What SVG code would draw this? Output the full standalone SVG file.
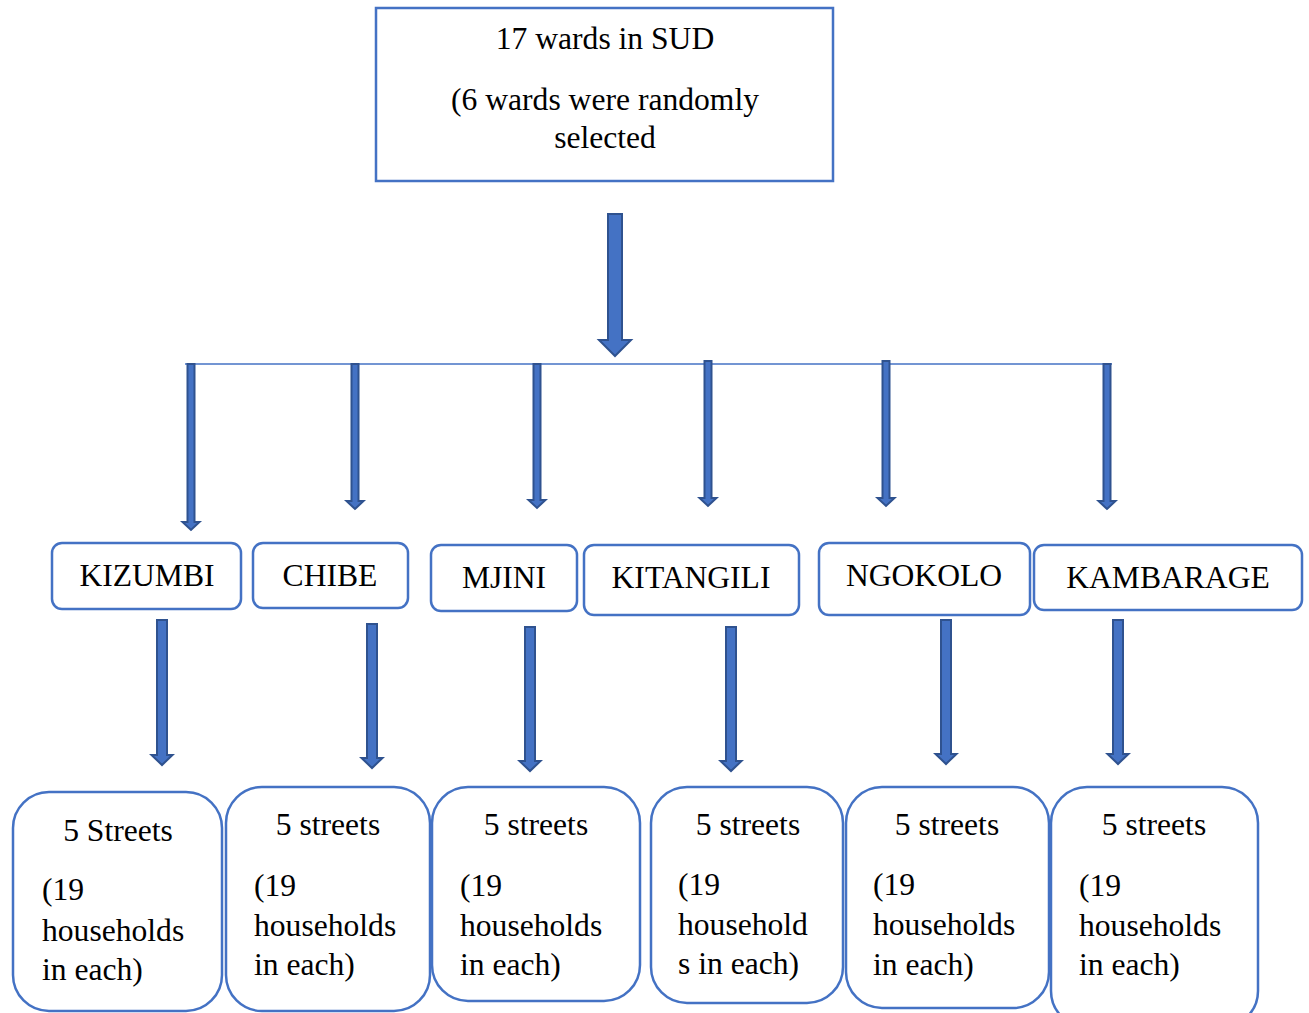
<svg xmlns="http://www.w3.org/2000/svg" width="1309" height="1013" viewBox="0 0 1309 1013">
<style>
.box{fill:#fff;stroke:#4472C4;stroke-width:2.5}
.arr{fill:#4472C4;stroke:#2F528F;stroke-width:2;stroke-linejoin:miter}
text{font-family:'Liberation Serif','DejaVu Serif',serif;font-size:31.6px;fill:#000}
.c{text-anchor:middle}
</style>
<rect width="1309" height="1013" fill="#fff"/>
<g id="top">
<rect class="box" x="376" y="8" width="457" height="173"/>
<text class="c" x="605" y="49">17 wards in SUD</text>
<text class="c" x="605" y="110">(6 wards were randomly</text>
<text class="c" x="605" y="148">selected</text>
</g>
<g id="connectors">
<path class="arr" d="M608,214 H622 V340 H631 L615,356 L599,340 H608 Z"/>
<line x1="185" y1="364" x2="1112" y2="364" stroke="#4472C4" stroke-width="1.5"/>
<path class="arr" d="M187.5,364 H194.5 V522 H199.5 L191,530 L182.5,522 H187.5 Z"/>
<path class="arr" d="M351.5,364 H358.5 V501 H363.5 L355,509 L346.5,501 H351.5 Z"/>
<path class="arr" d="M533.5,364 H540.5 V500 H545.5 L537,508 L528.5,500 H533.5 Z"/>
<path class="arr" d="M704.5,361 H711.5 V498 H716.5 L708,506 L699.5,498 H704.5 Z"/>
<path class="arr" d="M882.5,361 H889.5 V498 H894.5 L886,506 L877.5,498 H882.5 Z"/>
<path class="arr" d="M1103.5,364 H1110.5 V501 H1115.5 L1107,509 L1098.5,501 H1103.5 Z"/>
<path class="arr" d="M157,620 H167 V755 H172.5 L162,765 L151.5,755 H157 Z"/>
<path class="arr" d="M367,624 H377 V758 H382.5 L372,768 L361.5,758 H367 Z"/>
<path class="arr" d="M525,627 H535 V761 H540.5 L530,771 L519.5,761 H525 Z"/>
<path class="arr" d="M726,627 H736 V761 H741.5 L731,771 L720.5,761 H726 Z"/>
<path class="arr" d="M941,620 H951 V754 H956.5 L946,764 L935.5,754 H941 Z"/>
<path class="arr" d="M1113,620 H1123 V754 H1128.5 L1118,764 L1107.5,754 H1113 Z"/>
</g>
<g id="ward-kizumbi"><rect class="box" x="52" y="543" width="189" height="66" rx="10"/><text class="c" x="147" y="586">KIZUMBI</text></g>
<g id="ward-chibe"><rect class="box" x="253" y="543" width="155" height="65" rx="10"/><text class="c" x="330" y="586">CHIBE</text></g>
<g id="ward-mjini"><rect class="box" x="431" y="545" width="146" height="66" rx="10"/><text class="c" x="504" y="588">MJINI</text></g>
<g id="ward-kitangili"><rect class="box" x="584" y="545" width="215" height="70" rx="10"/><text class="c" x="691" y="588">KITANGILI</text></g>
<g id="ward-ngokolo"><rect class="box" x="819" y="543" width="211" height="72" rx="10"/><text class="c" x="924" y="586">NGOKOLO</text></g>
<g id="ward-kambarage"><rect class="box" x="1034" y="545" width="268" height="65" rx="10"/><text class="c" x="1168" y="588">KAMBARAGE</text></g>
<g id="streets-1"><rect class="box" x="13" y="792" width="209" height="219" rx="36"/>
<text class="c" x="118" y="841">5 Streets</text>
<text x="42" y="900">(19</text><text x="42" y="941">households</text><text x="42" y="980">in each)</text></g>
<g id="streets-2"><rect class="box" x="226" y="787" width="204" height="224" rx="36"/>
<text class="c" x="328" y="835">5 streets</text>
<text x="254" y="896">(19</text><text x="254" y="936">households</text><text x="254" y="975">in each)</text></g>
<g id="streets-3"><rect class="box" x="432" y="787" width="208" height="214" rx="36"/>
<text class="c" x="536" y="835">5 streets</text>
<text x="460" y="896">(19</text><text x="460" y="936">households</text><text x="460" y="975">in each)</text></g>
<g id="streets-4"><rect class="box" x="651" y="787" width="192" height="216" rx="36"/>
<text class="c" x="748" y="835">5 streets</text>
<text x="678" y="895">(19</text><text x="678" y="935">household</text><text x="678" y="974">s in each)</text></g>
<g id="streets-5"><rect class="box" x="846" y="787" width="203" height="221" rx="36"/>
<text class="c" x="947" y="835">5 streets</text>
<text x="873" y="895">(19</text><text x="873" y="935">households</text><text x="873" y="975">in each)</text></g>
<g id="streets-6"><rect class="box" x="1051" y="787" width="207" height="240" rx="36"/>
<text class="c" x="1154" y="835">5 streets</text>
<text x="1079" y="896">(19</text><text x="1079" y="936">households</text><text x="1079" y="975">in each)</text></g>
</svg>
